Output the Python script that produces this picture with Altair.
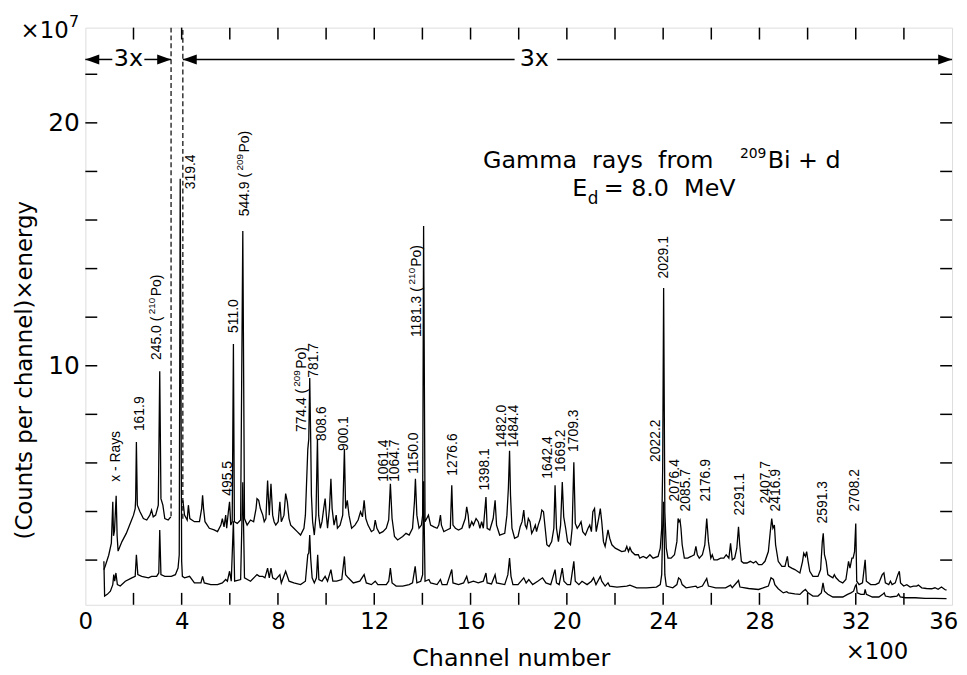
import altair as alt
import pandas as pd

# ---------------- data ----------------
# upper trace (x3), part before the gap
upper_a_channel = [77, 84, 97, 108, 114, 117, 121, 128, 132, 136, 152, 170, 190, 200, 207, 209, 212, 216,
                   227, 241, 255, 268, 275, 282, 292, 303, 309, 314, 322, 330, 344, 355]
upper_a_value = [1.6, 1.8, 2.2, 2.7, 4.4, 3.0, 3.2, 4.65, 3.0, 2.37, 2.76, 3.1, 3.6, 3.85, 4.12, 4.5, 6.86, 4.26,
                 3.99, 3.71, 3.65, 3.85, 4.06, 3.78, 3.85, 4.26, 9.77, 4.53, 4.26, 3.71, 3.65, 3.78]

# upper trace (x3), after the gap
upper_b_channel = [405, 412, 423, 428, 434, 453, 474, 483, 487, 491, 497, 515, 535, 549, 563, 569, 576, 583, 587,
                   594, 599, 604, 610, 615, 619, 631, 645, 654, 661, 672, 686, 699, 709, 713, 720, 727, 737, 743,
                   750, 757, 764, 771, 778, 784, 791, 801, 808, 814, 825, 832, 839, 846, 853, 866, 880, 894, 908,
                   914, 918, 924, 928, 932, 936, 939, 944, 951, 958, 964, 969, 976, 983, 990, 996, 1001, 1006,
                   1014, 1020, 1025, 1033, 1042, 1047, 1058, 1069, 1076, 1081, 1088, 1095, 1106, 1120, 1133, 1143,
                   1151, 1158, 1165, 1174, 1188, 1198, 1204, 1211, 1222, 1236, 1250, 1260, 1267, 1274, 1284, 1297,
                   1318, 1332, 1345, 1359, 1367, 1371, 1377, 1386, 1396, 1401, 1405, 1411, 1425, 1434, 1448, 1461,
                   1468, 1475, 1479, 1489, 1502, 1516, 1522, 1527, 1537, 1550, 1564, 1578, 1584, 1590, 1595, 1605,
                   1612, 1623, 1632, 1639, 1646, 1653, 1664, 1669, 1680, 1694, 1702, 1708, 1721, 1742, 1751, 1757,
                   1762, 1766, 1772, 1783, 1797, 1806, 1814, 1821, 1827, 1833, 1840, 1847, 1854, 1861, 1869, 1874,
                   1881, 1890, 1896, 1903, 1910, 1917, 1926, 1937, 1946, 1951, 1957, 1965, 1974, 1981, 1987, 1995,
                   2003, 2015, 2022, 2029, 2035, 2043, 2052, 2059, 2066, 2077, 2088, 2095, 2102, 2108, 2115, 2122,
                   2132, 2139, 2145, 2152, 2159, 2171, 2178, 2187, 2201, 2215, 2228, 2242, 2249, 2256, 2262, 2269,
                   2283, 2297, 2303, 2317, 2331, 2345, 2358, 2379, 2388, 2394, 2398, 2402, 2407, 2413, 2420, 2433,
                   2447, 2457, 2462, 2466, 2470, 2474, 2479, 2488, 2502, 2516, 2529, 2536, 2542, 2550, 2563, 2573,
                   2581, 2588, 2598, 2604, 2611, 2625, 2639, 2652, 2662, 2673, 2680, 2687, 2697, 2706, 2713, 2718,
                   2725, 2734, 2748, 2762, 2775, 2785, 2796, 2810, 2823, 2837, 2845, 2851, 2856, 2862, 2867, 2878,
                   2893, 2906, 2916, 2921, 2934, 2947, 2968, 2979, 2984, 2991, 2996, 3002, 3009, 3022, 3043, 3054,
                   3061, 3065, 3070, 3077, 3084, 3095, 3105, 3111, 3118, 3132, 3146, 3159, 3166, 3170, 3176, 3184,
                   3189, 3195, 3200, 3204, 3214, 3228, 3239, 3244, 3262, 3282, 3296, 3310, 3317, 3323, 3337, 3344,
                   3351, 3364, 3375, 3381, 3386, 3399, 3412, 3426, 3440, 3453, 3460, 3474, 3494, 3515, 3529, 3542,
                   3556, 3570, 3577]
upper_b_value = [4.46, 3.85, 3.65, 4.26, 3.71, 3.58, 3.58, 4.12, 4.67, 4.12, 3.58, 3.31, 3.24, 3.17, 3.44, 3.71,
                 3.37, 3.85, 3.31, 3.99, 4.40, 3.44, 3.58, 10.9, 3.58, 3.51, 3.65, 15.55, 3.71, 3.44, 3.65, 3.58,
                 4.12, 4.53, 4.46, 4.12, 3.85, 3.58, 3.71, 5.28, 3.85, 5.14, 3.85, 3.58, 3.44, 3.58, 4.40, 3.58,
                 3.85, 4.74, 4.40, 3.71, 3.44, 3.31, 3.17, 3.03, 3.31, 3.85, 4.94, 6.57, 6.98, 9.50, 6.98, 4.67,
                 3.58, 3.03, 3.85, 6.98, 3.85, 3.31, 3.58, 4.12, 4.53, 3.85, 3.31, 4.12, 5.35, 4.12, 3.44, 3.85,
                 3.31, 3.44, 3.85, 6.57, 4.12, 4.46, 3.85, 3.31, 3.44, 3.65, 3.99, 3.78, 4.46, 3.71, 3.44, 3.17,
                 3.24, 3.65, 3.31, 3.10, 3.17, 3.31, 3.65, 5.14, 3.71, 2.97, 2.83, 2.97, 3.10, 3.03, 3.31, 4.40,
                 5.35, 3.85, 3.31, 3.44, 3.85, 15.75, 3.58, 3.85, 3.44, 3.37, 3.31, 3.44, 3.85, 3.44, 3.17, 3.24,
                 3.31, 5.08, 3.44, 3.31, 3.24, 3.31, 3.71, 4.19, 3.85, 3.31, 3.58, 3.44, 3.71, 3.58, 3.31, 3.58,
                 3.31, 4.60, 3.31, 3.24, 3.71, 4.46, 3.44, 3.03, 3.10, 3.85, 4.94, 6.50, 4.67, 3.31, 2.90, 2.97,
                 3.37, 3.58, 4.06, 3.44, 3.31, 3.71, 3.58, 3.10, 3.24, 3.44, 3.17, 3.44, 3.71, 4.06, 3.99, 3.31,
                 2.63, 2.56, 2.76, 3.31, 5.08, 3.31, 2.76, 3.44, 5.21, 3.78, 3.31, 2.76, 2.63, 3.31, 6.03, 3.51,
                 3.31, 3.44, 3.58, 3.17, 3.03, 3.31, 3.44, 3.17, 3.99, 4.12, 3.17, 3.71, 4.12, 3.58, 2.76, 2.56,
                 3.24, 2.90, 2.63, 2.49, 2.42, 2.35, 2.38, 2.56, 2.35, 2.52, 2.35, 2.22, 2.22, 2.08, 2.15, 2.08,
                 2.22, 2.08, 2.15, 2.49, 3.31, 5.76, 13.2, 3.99, 2.49, 2.08, 2.08, 2.22, 2.76, 3.71, 3.58, 3.65,
                 3.31, 2.63, 2.08, 2.08, 2.15, 2.22, 2.56, 2.22, 2.08, 2.22, 2.63, 3.71, 2.76, 2.08, 2.22, 2.01,
                 2.01, 2.08, 2.08, 2.22, 2.08, 2.69, 2.01, 2.08, 2.49, 3.37, 2.63, 1.95, 1.88, 1.88, 1.95, 1.88,
                 1.95, 1.81, 1.81, 1.95, 2.35, 3.17, 3.71, 3.31, 3.44, 2.63, 1.95, 1.74, 1.74, 2.15, 1.74, 1.67,
                 1.61, 1.47, 1.95, 2.29, 2.15, 2.35, 1.95, 1.54, 1.33, 1.33, 1.61, 2.76, 3.10, 2.22, 1.95, 1.40,
                 1.33, 1.27, 1.40, 1.27, 1.13, 1.06, 1.20, 1.67, 1.95, 1.67, 2.08, 2.08, 2.35, 3.51, 1.13, 0.99,
                 1.06, 2.01, 1.13, 0.99, 0.99, 1.06, 1.40, 1.47, 1.06, 0.99, 1.13, 0.99, 1.06, 1.40, 1.54, 1.06,
                 0.93, 0.99, 0.89, 0.93, 0.93, 0.97, 0.86, 0.83, 0.82, 0.86, 0.80, 0.89, 0.79, 0.76]

# lower trace (x1)
lower_channel = [77, 80, 91, 104, 114, 118, 122, 127, 133, 145, 166, 193, 207, 212, 218, 234, 262, 275, 296, 305,
                 309, 314, 330, 357, 374, 385, 390, 394, 400, 403, 412, 433, 453, 480, 487, 494, 521, 549, 569,
                 583, 590, 599, 606, 615, 620, 645, 654, 661, 686, 713, 723, 737, 746, 757, 764, 771, 778, 791,
                 808, 814, 832, 846, 866, 894, 914, 924, 928, 932, 936, 942, 951, 960, 965, 970, 983, 996, 1006,
                 1020, 1028, 1044, 1065, 1076, 1081, 1092, 1113, 1140, 1158, 1167, 1188, 1204, 1215, 1250, 1260,
                 1267, 1274, 1291, 1318, 1345, 1359, 1370, 1377, 1393, 1401, 1405, 1411, 1427, 1434, 1461, 1475,
                 1482, 1502, 1522, 1527, 1550, 1571, 1584, 1591, 1612, 1632, 1653, 1664, 1669, 1687, 1702, 1708,
                 1742, 1755, 1762, 1768, 1776, 1797, 1821, 1831, 1842, 1858, 1879, 1899, 1913, 1933, 1951, 1957,
                 1968, 1981, 1988, 2002, 2015, 2029, 2035, 2050, 2063, 2084, 2102, 2111, 2121, 2139, 2145, 2159,
                 2171, 2178, 2208, 2249, 2262, 2290, 2331, 2372, 2388, 2394, 2398, 2402, 2407, 2413, 2440, 2457,
                 2464, 2472, 2479, 2495, 2536, 2542, 2563, 2581, 2588, 2618, 2659, 2680, 2687, 2713, 2719, 2755,
                 2796, 2837, 2848, 2858, 2864, 2878, 2899, 2913, 2920, 2947, 2968, 2981, 2991, 3002, 3022, 3043,
                 3057, 3064, 3070, 3084, 3105, 3146, 3166, 3180, 3191, 3198, 3202, 3206, 3221, 3235, 3239, 3244,
                 3269, 3296, 3312, 3318, 3323, 3344, 3371, 3378, 3385, 3406, 3447, 3488, 3529, 3577]
lower_value = [1.95, 0.52, 0.59, 0.72, 0.99, 1.40, 1.13, 1.47, 0.99, 0.93, 1.13, 1.27, 1.33, 2.22, 1.40, 1.33,
               1.27, 1.33, 1.33, 1.47, 3.24, 1.40, 1.33, 1.33, 1.40, 1.67, 2.22, 17.7, 1.95, 1.33, 1.27, 1.33,
               1.06, 1.06, 1.33, 1.06, 0.99, 0.99, 1.06, 1.20, 1.13, 1.54, 1.13, 3.6, 1.13, 1.20, 5.2, 1.27,
               1.13, 1.40, 1.33, 1.33, 1.27, 1.67, 1.27, 1.67, 1.27, 1.20, 1.40, 1.06, 1.54, 1.13, 1.06, 0.99,
               1.13, 2.22, 2.29, 3.03, 2.08, 1.27, 1.06, 1.27, 2.22, 1.20, 1.13, 1.33, 1.13, 1.61, 1.13, 1.13,
               1.20, 2.15, 1.40, 1.27, 1.06, 1.13, 1.40, 1.06, 0.99, 1.13, 0.99, 0.99, 1.13, 1.67, 1.06, 0.93,
               0.93, 0.99, 1.06, 1.74, 1.06, 1.13, 1.40, 5.25, 1.13, 1.20, 1.06, 0.99, 1.20, 0.99, 0.99, 1.61,
               1.06, 0.99, 1.06, 1.33, 1.06, 1.13, 1.06, 1.13, 1.47, 1.06, 1.02, 1.40, 1.06, 0.99, 1.40, 2.08,
               1.33, 0.99, 0.99, 1.27, 1.06, 1.20, 0.99, 1.13, 1.27, 1.06, 0.99, 1.61, 1.06, 0.99, 1.67, 1.13,
               0.99, 0.99, 1.95, 1.13, 0.99, 1.13, 0.99, 1.13, 1.27, 0.99, 1.33, 1.13, 0.93, 1.06, 0.93, 0.89,
               0.93, 0.97, 0.86, 0.86, 0.89, 0.99, 1.40, 3.31, 4.4, 1.40, 0.93, 0.86, 0.99, 1.27, 1.20, 0.99,
               0.86, 0.93, 0.86, 0.93, 1.24, 0.93, 0.86, 0.86, 0.97, 0.86, 1.16, 0.89, 0.83, 0.79, 0.93, 1.27,
               1.20, 0.99, 0.82, 0.65, 0.70, 0.65, 0.61, 0.59, 0.72, 0.79, 0.65, 0.52, 0.52, 0.65, 1.06, 0.72,
               0.59, 0.48, 0.48, 0.59, 0.65, 0.72, 0.93, 0.99, 0.65, 0.59, 0.59, 0.79, 0.59, 0.48, 0.48, 0.59,
               0.65, 0.52, 0.48, 0.52, 0.61, 0.48, 0.45, 0.45, 0.42, 0.42, 0.41]

# peak labels (rotated text, anchored at their lower end)
peak_label_text = ["x - Rays", "161.9", "245.0 (", "Po)", "319.4", "495.5", "511.0", "544.9 (", "Po)",
                   "774.4 (", "Po)", "781.7", "808.6", "900.1", "1061.4", "1064.7", "1150.0", "1181.3 (", "Po)",
                   "1276.6", "1398.1", "1482.0", "1484.4", "1642.4", "1669.2", "1709.3", "2022.2", "2029.1",
                   "2076.4", "2085.7", "2176.9", "2291.1", "2407.7", "2416.9", "2591.3", "2708.2"]
peak_label_channel = [129, 227, 297, 297, 437, 593, 617, 663, 663, 901, 901, 950, 983, 1073, 1241, 1287, 1365,
                      1377, 1377, 1529, 1660, 1730, 1779, 1923, 1976, 2030, 2370, 2403, 2448, 2493, 2580, 2719,
                      2826, 2867, 3064, 3199]
peak_label_value = [5.22, 7.31, 10.24, 12.86, 17.27, 4.65, 11.35, 16.16, 18.78, 7.27, 9.88, 9.51, 6.90, 6.49,
                    5.22, 5.22, 5.55, 11.18, 14.08, 5.47, 4.86, 6.65, 6.65, 5.35, 5.63, 6.45, 6.04, 13.59, 4.41,
                    4.00, 4.41, 3.84, 4.33, 4.00, 3.51, 4.00]
# mass numbers written as superscripts in the labels
sup_label_text = ["210", "209", "209", "210"]
sup_label_channel = [277, 642, 881, 1356]
sup_label_value = [12.12, 18.04, 9.14, 13.35]

# axes
x_label_values = [0, 400, 800, 1200, 1600, 2000, 2400, 2800, 3200, 3600]
x_tick_values = [200, 400, 600, 800, 1000, 1200, 1400, 1600, 1800, 2000, 2200, 2400, 2600, 2800, 3000,
                 3200, 3400]
y_label_values = [10, 20]
y_tick_values = [2, 4, 6, 8, 10, 12, 14, 16, 18, 20, 22]

# dashed markers of the gap in the x3 trace
gap_channel = [356, 405]
gap_low_value = [3.8, 3.7]

# "3x" arrows
arrow_level = 22.61
arrow_seg_start = [0, 245, 405, 1960]
arrow_seg_end = [112, 356, 1783, 3600]
arrow_left_tips = [0, 405]
arrow_right_tips = [356, 3600]
arrow_text_channel = [179, 1865]

# ---------------- chart ----------------
FONT = "DejaVu Sans"
LFONT = "Liberation Sans"
xs = alt.Scale(domain=[0, 3600], nice=False, zero=False)
ys = alt.Scale(domain=[0.16, 23.92], nice=False, zero=False)

X_AXIS = alt.Axis(
    values=x_label_values, labelExpr="datum.value / 100", ticks=False, domain=False, grid=False,
    labelFont=FONT, labelFontSize=23, labelColor="black", labelPadding=6, labelFlush=False,
    labelOffset={"condition": {"test": "datum.value >= 3600", "value": -9}, "value": 0},
    title="Channel number", titleFont=FONT, titleFontSize=24, titleFontWeight="normal",
    titleColor="black", titleX=429, titleY=61, titleBaseline="alphabetic", titleAlign="center")
Y_AXIS = alt.Axis(
    values=y_label_values, ticks=False, domain=False, grid=False, labelFlush=False,
    labelFont=FONT, labelFontSize=25, labelColor="black", labelPadding=6,
    title="(Counts per channel)×energy", titleFont=FONT, titleFontSize=23, titleFontWeight="normal",
    titleColor="black", titleX=-61, titleY=345, titleAlign="center", titleBaseline="middle")


def X(field):
    return alt.X(field, scale=xs, axis=X_AXIS)


def Y(field):
    return alt.Y(field, scale=ys, axis=Y_AXIS)


def seg(ch, val, name):
    return pd.DataFrame({"c": ch, "v": val, "s": name, "i": range(len(ch))})


curve_df = pd.concat([seg(upper_a_channel, upper_a_value, "ua"),
                      seg(upper_b_channel, upper_b_value, "ub"),
                      seg(lower_channel, lower_value, "lo")], ignore_index=True)

curves = alt.Chart(curve_df).mark_line(color="black", strokeWidth=1.3).encode(
    x=X("c:Q"), y=Y("v:Q"), detail="s:N", order="i:Q")


def text_layer(texts, chans, vals, size, align="left", baseline="alphabetic", angle=0, font=FONT):
    df = pd.DataFrame({"t": texts, "c": chans, "v": vals})
    return alt.Chart(df).mark_text(align=align, baseline=baseline, angle=angle, font=font,
                                   fontSize=size, color="black").encode(
        x=X("c:Q"), y=Y("v:Q"), text="t:N")


labels = text_layer(peak_label_text, peak_label_channel, peak_label_value, 14,
                    baseline="middle", angle=270, font=LFONT)
sups = text_layer(sup_label_text, sup_label_channel, sup_label_value, 10,
                  baseline="middle", angle=270, font=LFONT)

xt = pd.DataFrame({"c": x_tick_values})
yt = pd.DataFrame({"v": y_tick_values})
bottom_ticks = alt.Chart(xt).mark_rule(color="black", strokeWidth=1.5).encode(
    x=X("c:Q"), y=alt.value(582), y2=alt.value(570))
top_ticks = alt.Chart(xt).mark_rule(color="black", strokeWidth=1.5).encode(
    x=X("c:Q"), y=alt.value(0), y2=alt.value(12))
left_ticks = alt.Chart(yt).mark_rule(color="black", strokeWidth=1.5).encode(
    y=Y("v:Q"), x=alt.value(0), x2=alt.value(12))
right_ticks = alt.Chart(yt).mark_rule(color="black", strokeWidth=1.5).encode(
    y=Y("v:Q"), x=alt.value(862), x2=alt.value(874))

gap_df = pd.DataFrame({"c": gap_channel, "v": gap_low_value})
gaps = alt.Chart(gap_df).mark_rule(color="black", strokeWidth=1.2, strokeDash=[5, 3]).encode(
    x=X("c:Q"), y=Y("v:Q"), y2=alt.value(0))

arrow_df = pd.DataFrame({"c": arrow_seg_start, "b": arrow_seg_end, "v": arrow_level})
arrows = alt.Chart(arrow_df).mark_rule(color="black", strokeWidth=1.5).encode(
    x=X("c:Q"), x2="b:Q", y=Y("v:Q"))
left_heads = alt.Chart(pd.DataFrame({"c": arrow_left_tips, "v": arrow_level})).mark_point(
    shape="M0,0L1,-0.36L1,0.36Z", size=784, filled=True, color="black", opacity=1).encode(
    x=X("c:Q"), y=Y("v:Q"))
right_heads = alt.Chart(pd.DataFrame({"c": arrow_right_tips, "v": arrow_level})).mark_point(
    shape="M0,0L-1,-0.36L-1,0.36Z", size=784, filled=True, color="black", opacity=1).encode(
    x=X("c:Q"), y=Y("v:Q"))
arrow_text = text_layer(["3x", "3x"], arrow_text_channel, [arrow_level, arrow_level], 24,
                        align="center", baseline="middle")

title_main = text_layer(["Gamma\u00a0 rays\u00a0 from", "Bi + d", "E", "= 8.0\u00a0 MeV"],
                        [1652, 2834, 2022, 2153], [18.16, 18.16, 16.98, 16.98], 24)
title_sup = text_layer(["209"], [2719], [18.57], 14)
title_sub = text_layer(["d"], [2087], [16.65], 17)

mult_main = text_layer(["×10", "×100"], [-269, 3158], [23.51, -2.08], 23)
mult_sup = text_layer(["7"], [-68], [23.96], 16)

chart = alt.layer(
    curves, bottom_ticks, top_ticks, left_ticks, right_ticks, gaps, arrows, left_heads, right_heads,
    arrow_text, labels, sups, title_main, title_sup, title_sub, mult_main, mult_sup,
).properties(
    width=874, height=582,
    autosize=alt.AutoSizeParams(type="none"),
    padding={"left": 78, "top": 17, "right": 7, "bottom": 67},
).configure_view(stroke="black", strokeWidth=2).configure(background="white")

chart.save("out.html", embed_options={"renderer": "svg", "actions": False})
